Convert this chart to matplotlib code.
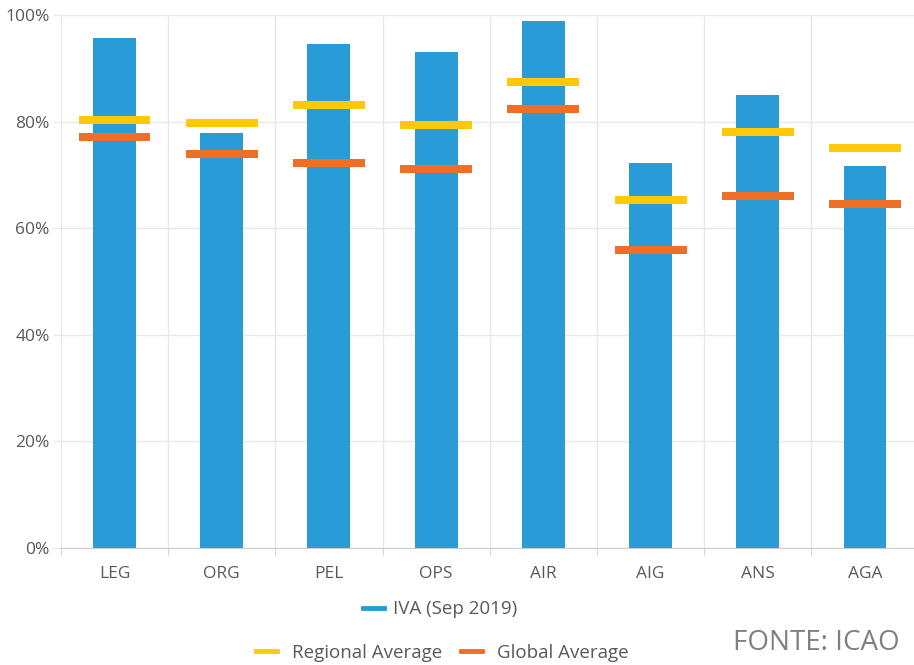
import numpy as np
import matplotlib.pyplot as plt
from matplotlib.lines import Line2D

plt.rcParams['font.family'] = ['Open Sans', 'DejaVu Sans']

categorias = ['LEG', 'ORG', 'PEL', 'OPS', 'AIR', 'AIG', 'ANS', 'AGA']
iva = [95.7, 77.9, 94.6, 93.2, 99.0, 72.2, 85.0, 71.7]
media_regional = [80.3, 79.7, 83.1, 79.4, 87.4, 65.3, 78.0, 75.0]
media_global = [77.1, 73.9, 72.2, 71.1, 82.4, 55.9, 66.1, 64.6]

azul = '#299cd7'
amarelo = '#ffc90a'
laranja = '#ef6f27'
cinza = '#595959'

fig = plt.figure(figsize=(9.14, 6.65), dpi=100)
ax = fig.add_axes([0.0666, 0.176, 0.9385, 0.801])

x = np.arange(len(categorias))
ax.bar(x, iva, width=0.4, color=azul, zorder=2)
ax.hlines(media_regional, x - 0.335, x + 0.335, color=amarelo, lw=5.8, zorder=3, capstyle='butt')
ax.hlines(media_global, x - 0.335, x + 0.335, color=laranja, lw=5.8, zorder=3, capstyle='butt')

ax.set_xlim(-0.5, len(categorias) - 0.5)
ax.set_ylim(0, 100)
ax.set_yticks(np.arange(0, 101, 20))
ax.set_yticklabels([f'{v}%' for v in range(0, 101, 20)])
ax.set_xticks(x)
ax.set_xticklabels(categorias)
ax.set_xticks(np.arange(-0.5, len(categorias), 1), minor=True)

ax.grid(axis='y', color='#e8e8e8', lw=1, zorder=0)
ax.grid(axis='x', which='minor', color='#e8e8e8', lw=1, zorder=0)
ax.tick_params(axis='x', which='major', length=0, pad=13, labelsize=12.5, labelcolor=cinza)
ax.tick_params(axis='x', which='minor', length=5, color='#cccccc')
ax.tick_params(axis='y', length=6, color='#e8e8e8', labelsize=12.5, labelcolor=cinza, pad=2)
for s in ['top', 'right', 'left']:
    ax.spines[s].set_visible(False)
ax.spines['bottom'].set_color('#cccccc')

# legenda em duas linhas
h_iva = Line2D([], [], color=azul, lw=3.5)
h_reg = Line2D([], [], color=amarelo, lw=3.5)
h_glo = Line2D([], [], color=laranja, lw=3.5)
fig.legend([h_iva], ['IVA (Sep 2019)'], loc='center', bbox_to_anchor=(0.482, 0.084),
           frameon=False, fontsize=13.5, handlelength=1.1, handletextpad=0.5, labelcolor=cinza)
fig.legend([h_reg, h_glo], ['Regional Average', 'Global Average'], loc='center',
           bbox_to_anchor=(0.484, 0.018), ncol=2, frameon=False, fontsize=13.5,
           handlelength=1.1, handletextpad=0.8, columnspacing=1.0, labelcolor=cinza)

fig.text(0.984, 0.033, 'FONTE: ICAO', ha='right', va='center', fontsize=20, color='#808080')

fig.savefig('out.png', dpi=100)
